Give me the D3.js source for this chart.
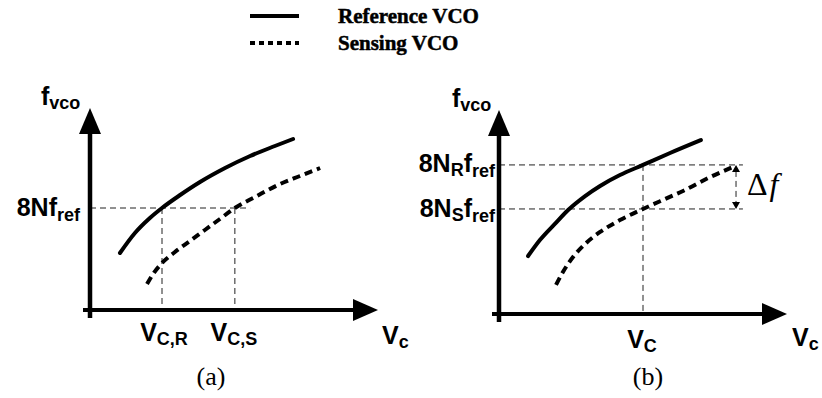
<!DOCTYPE html>
<html>
<head>
<meta charset="UTF-8">
<style>
  body { margin: 0; background: #fff; }
  svg { display: block; }
  .lab { font-family: 'Liberation Sans', Arial, sans-serif; font-weight: bold; fill: #000; }
  .ser { font-family: 'Liberation Serif', 'Times New Roman', serif; fill: #000; }
</style>
</head>
<body>
<svg width="822" height="398"></svg>
<script src="https://cdn.jsdelivr.net/npm/d3@7"></script>
<script>
// curves in abstract units (0..100 on both axes of each panel)
const refA = [[10.4,28.5],[15.6,38.5],[20.8,46],[25,51],[31.3,57.5],[38.2,64],[46.9,71],[55.6,77],[64.2,82],[70.5,85.5]];
const senA = [[19.8,13],[21.9,18],[25,23.5],[29.5,29],[34.7,34.5],[39.9,40],[45.1,45.5],[50.3,51],[57.3,56.5],[66,63],[72.9,67],[79.9,71]];
const refB = [[10.1,28.7],[14.2,36.6],[19.4,44.6],[24,51.5],[29.9,58.4],[35.1,63.4],[42,68.8],[50,73.8],[59.4,79.7],[70.1,86.1]];
const senB = [[19.8,14.4],[22.2,20.8],[25.7,28.2],[30.2,35.1],[35.1,40.6],[42,46.5],[50,52],[57.6,56.9],[63.9,60.9],[72.6,67.3],[81.3,72.8]];

// guide marks
const levelA = 51, vcR = 25, vcS = 50.3, guideEndA = 55.6;
const levelNR = 73.8, levelNS = 52, vcB = 50, guideEndB = 84.7, deltaX = 82.3;

const legendItems = ["Reference VCO", "Sensing VCO"];

const svg = d3.select("svg");

const panels = [
  { x: d3.scaleLinear().domain([0,100]).range([90,378]), y: d3.scaleLinear().domain([0,100]).range([310,110]), ref: refA, sen: senA },
  { x: d3.scaleLinear().domain([0,100]).range([499,787]), y: d3.scaleLinear().domain([0,100]).range([314,112]), ref: refB, sen: senB }
];

function drawAxes(p) {
  const g = svg.append("g");
  const x0 = p.x(0), y0 = p.y(0), xEnd = p.x(100), yEnd = p.y(100);
  g.append("line").attr("x1", x0).attr("x2", x0).attr("y1", y0 + 8).attr("y2", yEnd + 20)
    .attr("stroke", "#000").attr("stroke-width", 4.5);
  g.append("line").attr("x1", x0 - 7).attr("x2", xEnd - 20).attr("y1", y0).attr("y2", y0)
    .attr("stroke", "#000").attr("stroke-width", 4);
  g.append("path").attr("d", `M${x0},${yEnd - 2} L${x0 - 11},${yEnd + 24} L${x0 + 11},${yEnd + 24} Z`).attr("fill", "#000");
  g.append("path").attr("d", `M${xEnd},${y0} L${xEnd - 25},${y0 - 11} L${xEnd - 25},${y0 + 11} Z`).attr("fill", "#000");
}

function drawCurves(p) {
  const line = d3.line().x(d => p.x(d[0])).y(d => p.y(d[1])).curve(d3.curveMonotoneX);
  svg.append("path").attr("d", line(p.ref)).attr("fill", "none")
    .attr("stroke", "#000").attr("stroke-width", 4).attr("stroke-linecap", "round");
  svg.append("path").attr("d", line(p.sen)).attr("fill", "none")
    .attr("stroke", "#000").attr("stroke-width", 4).attr("stroke-dasharray", "8,5");
}

function guide(x1, y1, x2, y2) {
  svg.append("line").attr("x1", x1).attr("y1", y1).attr("x2", x2).attr("y2", y2)
    .attr("stroke", "#222").attr("stroke-width", 1).attr("stroke-dasharray", "6,4");
}

function subText(x, y, parts, anchor) {
  const t = svg.append("text").attr("class", "lab").attr("x", x).attr("y", y)
    .attr("text-anchor", anchor || "start");
  parts.forEach(pt => {
    t.append("tspan").attr("font-size", pt.sub ? 18 : 25)
      .attr("dy", pt.dy || 0).text(pt.t);
  });
  return t;
}

// panel (a)
const pa = panels[0];
guide(pa.x(0), pa.y(levelA), pa.x(guideEndA), pa.y(levelA));
guide(pa.x(vcR), pa.y(levelA), pa.x(vcR), pa.y(0));
guide(pa.x(vcS), pa.y(levelA), pa.x(vcS), pa.y(0));
drawAxes(pa);
drawCurves(pa);

subText(41, 105, [{t: "f"}, {t: "vco", sub: true, dy: 4}]);
subText(80, 216, [{t: "8Nf"}, {t: "ref", sub: true, dy: 5}], "end");
subText(pa.x(vcR) + 2, 341, [{t: "V"}, {t: "C,R", sub: true, dy: 4}], "middle");
subText(pa.x(vcS) - 1, 341, [{t: "V"}, {t: "C,S", sub: true, dy: 4}], "middle");
subText(pa.x(100) + 4, 344, [{t: "V"}, {t: "c", sub: true, dy: 4}]);
svg.append("text").attr("class", "ser").attr("x", 211).attr("y", 385)
  .attr("text-anchor", "middle").attr("font-size", 26).text("(a)");

// panel (b)
const pb = panels[1];
guide(pb.x(0), pb.y(levelNR), pb.x(guideEndB), pb.y(levelNR));
guide(pb.x(0), pb.y(levelNS), pb.x(guideEndB), pb.y(levelNS));
guide(pb.x(vcB), pb.y(levelNR), pb.x(vcB), pb.y(0));
drawAxes(pb);
drawCurves(pb);

// delta f arrow
const dx = pb.x(deltaX), yTop = pb.y(levelNR), yBot = pb.y(levelNS);
guide(dx, yTop + 6, dx, yBot - 6);
svg.append("path").attr("d", `M${dx},${yTop} L${dx - 4},${yTop + 7} L${dx + 4},${yTop + 7} Z`).attr("fill", "#000");
svg.append("path").attr("d", `M${dx},${yBot} L${dx - 4},${yBot - 7} L${dx + 4},${yBot - 7} Z`).attr("fill", "#000");
const df = svg.append("text").attr("class", "ser").attr("x", 747).attr("y", 195).attr("font-size", 32);
df.append("tspan").text("\u0394");
df.append("tspan").attr("font-style", "italic").attr("dx", 2).text("f");

subText(452, 107, [{t: "f"}, {t: "vco", sub: true, dy: 4}]);
subText(495, 172, [{t: "8N"}, {t: "R", sub: true, dy: 4}, {t: "f", dy: -4}, {t: "ref", sub: true, dy: 5}], "end");
subText(495, 217, [{t: "8N"}, {t: "S", sub: true, dy: 4}, {t: "f", dy: -4}, {t: "ref", sub: true, dy: 5}], "end");
subText(pb.x(vcB) - 1, 348, [{t: "V"}, {t: "C", sub: true, dy: 4}], "middle");
subText(pb.x(100) + 5, 346, [{t: "V"}, {t: "c", sub: true, dy: 4}]);
svg.append("text").attr("class", "ser").attr("x", 648).attr("y", 385)
  .attr("text-anchor", "middle").attr("font-size", 26).text("(b)");

// legend
const lg = svg.append("g");
legendItems.forEach((name, i) => {
  const y = 16 + i * 27;
  lg.append("line").attr("x1", 250).attr("x2", 299).attr("y1", y).attr("y2", y)
    .attr("stroke", "#000").attr("stroke-width", 4)
    .attr("stroke-dasharray", i === 0 ? null : "5,4");
  lg.append("text").attr("class", "ser").attr("x", 338).attr("y", y + 7)
    .attr("font-size", 21).style("font-weight", "bold")
    .attr("stroke", "#000").attr("stroke-width", 0.5).text(name);
});
</script>
</body>
</html>
